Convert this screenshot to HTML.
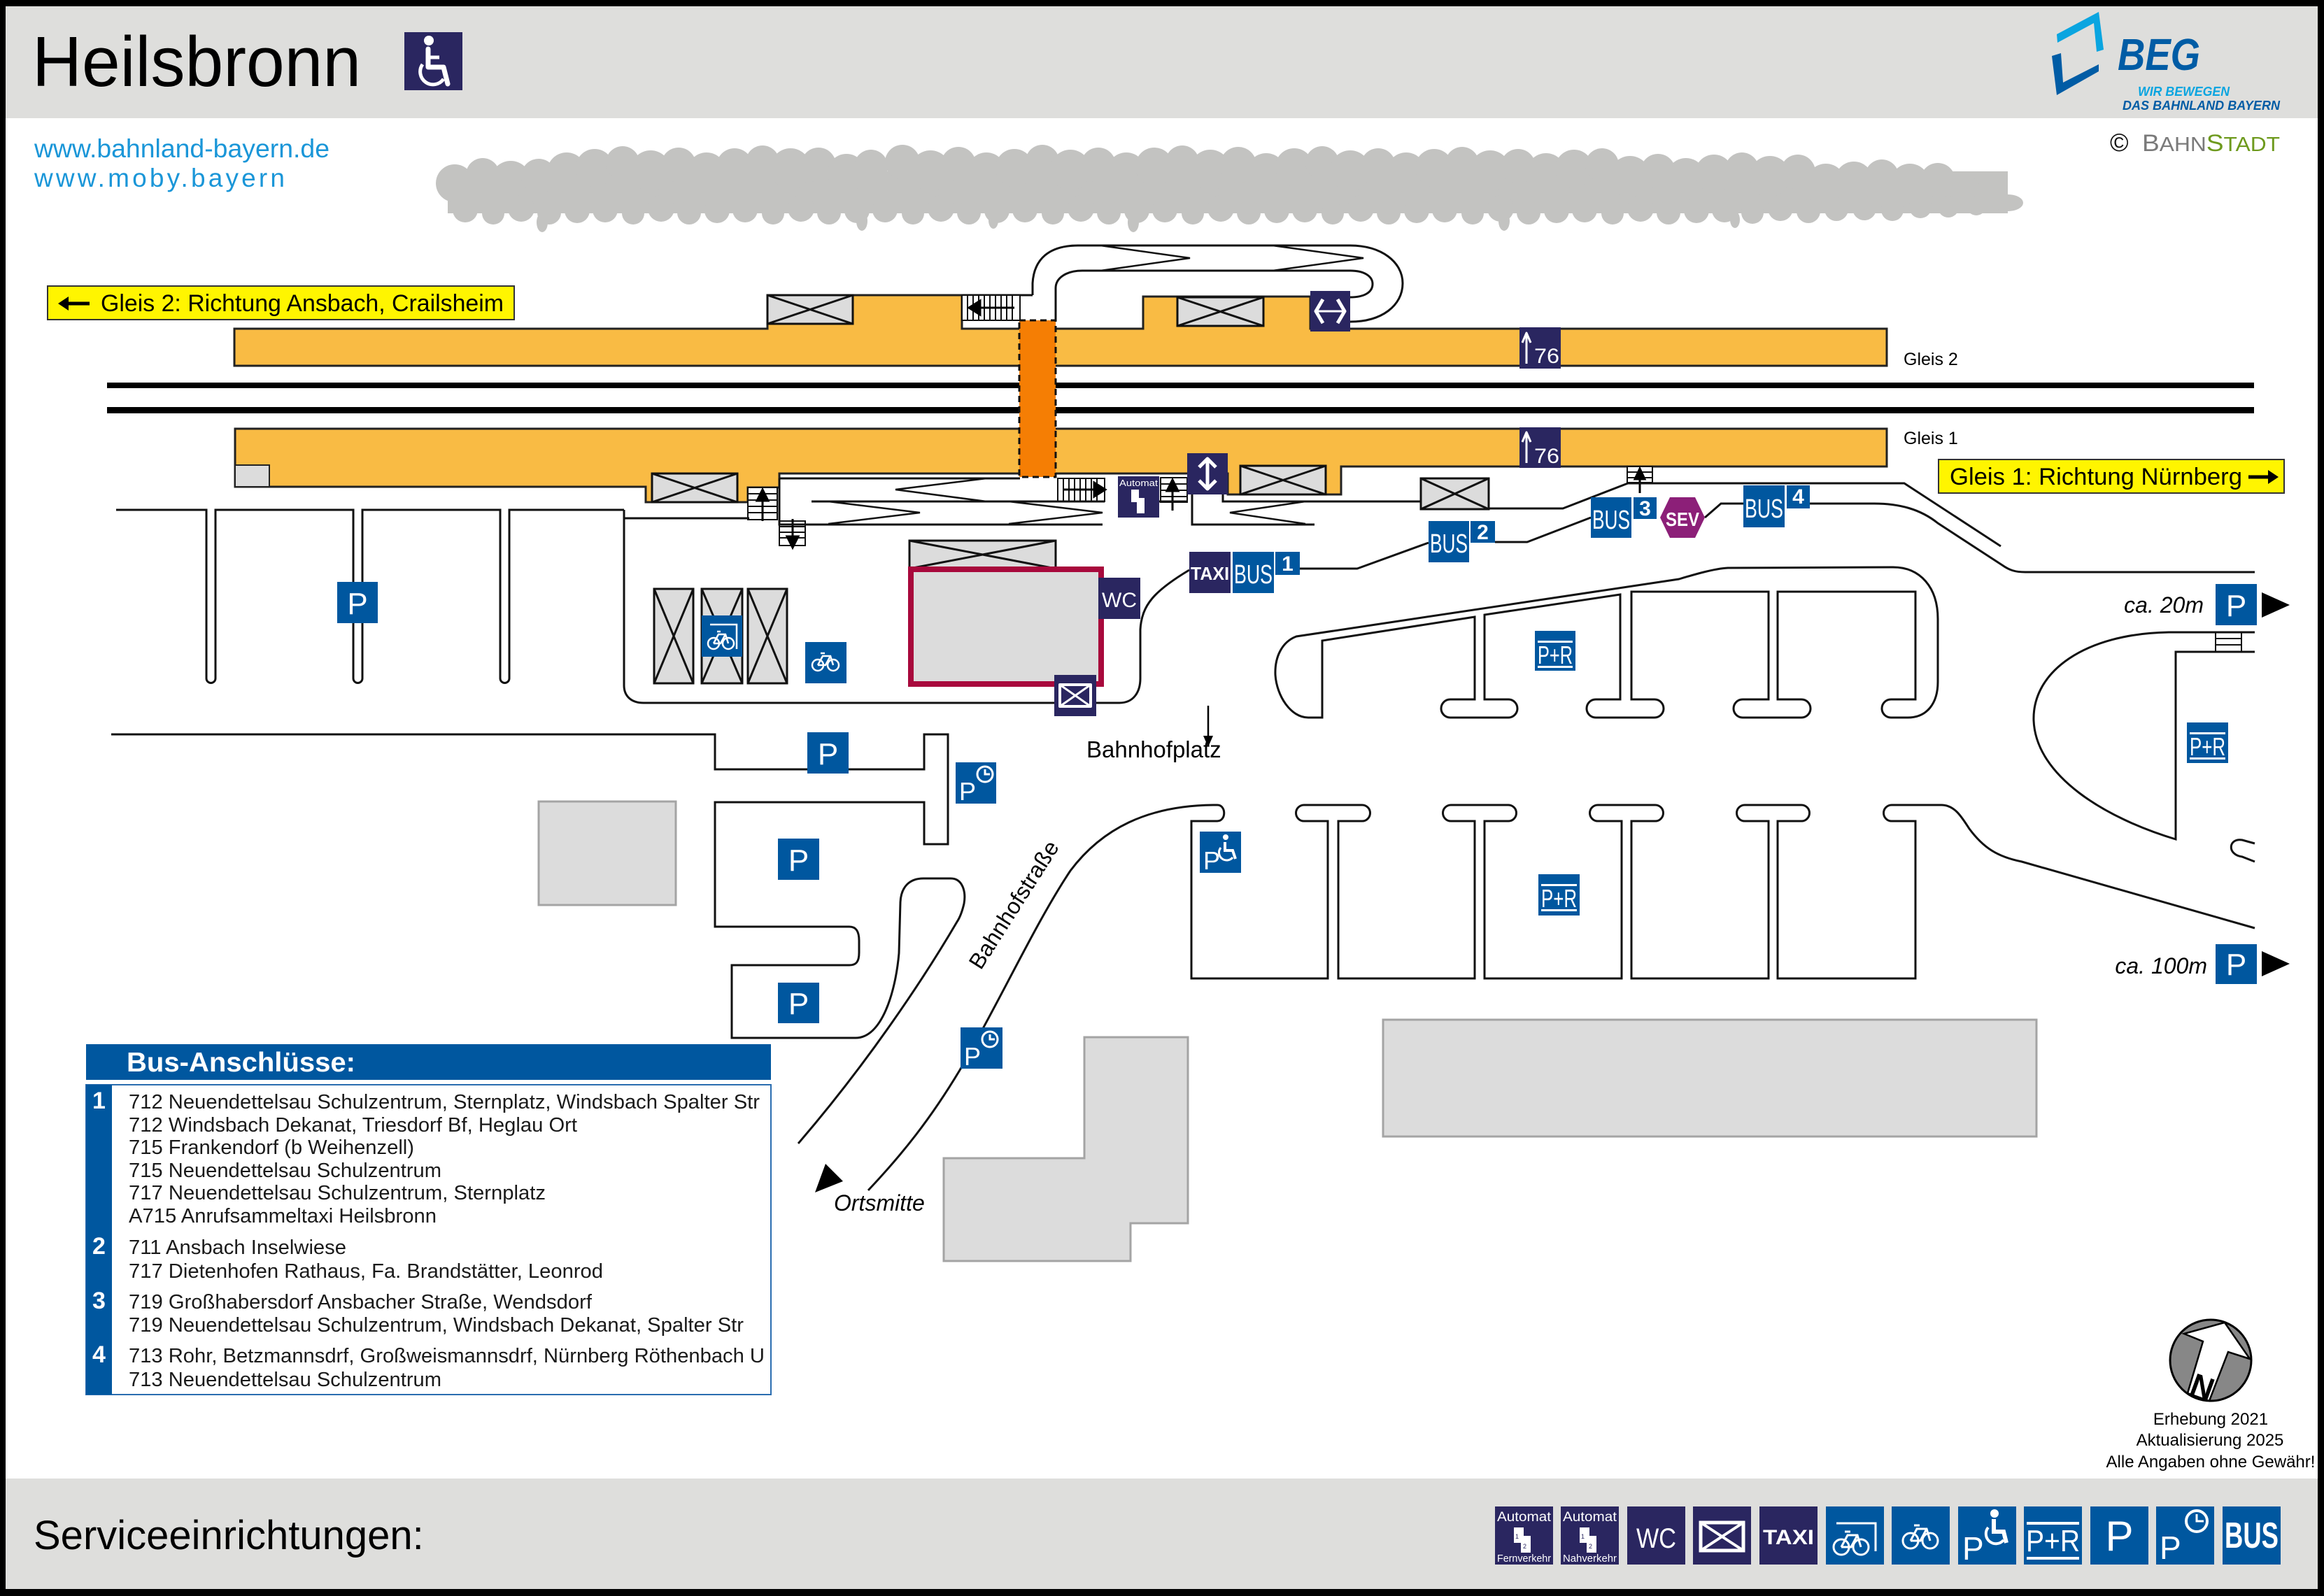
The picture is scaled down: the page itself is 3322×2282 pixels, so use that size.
<!DOCTYPE html>
<html><head><meta charset="utf-8"><style>html,body{margin:0;padding:0;background:#fff}svg{display:block}</style></head>
<body>
<svg xmlns="http://www.w3.org/2000/svg" width="3322" height="2282" viewBox="0 0 3322 2282" font-family="'Liberation Sans', Arial, sans-serif">
<!-- frame -->
<rect x="0" y="0" width="3322" height="2282" fill="#000"/>
<rect x="8" y="9" width="3305" height="2263" fill="#fff"/>
<rect x="8" y="9" width="3305" height="160" fill="#dededc"/>
<rect x="8" y="2114" width="3305" height="158" fill="#dededc"/>

<!-- header -->
<text x="46" y="123" font-size="101" fill="#000" textLength="470" lengthAdjust="spacingAndGlyphs">Heilsbronn</text>
<rect x="578" y="46" width="83" height="83" fill="#2a2660"/>
<circle cx="613" cy="58" r="7" fill="#fff"/>
<path d="M612 70 L612 96 L634 96 L640 120" stroke="#fff" stroke-width="7" fill="none" stroke-linejoin="round" stroke-linecap="round"/>
<path d="M612 82 L628 82" stroke="#fff" stroke-width="5"/>
<path d="M604 92 A18 18 0 1 0 634 113" stroke="#fff" stroke-width="5" fill="none"/>

<text x="49" y="225" font-size="37" fill="#1a96d8" textLength="422" lengthAdjust="spacingAndGlyphs">www.bahnland-bayern.de</text>
<text x="49" y="267" font-size="37" fill="#1a96d8" textLength="358" lengthAdjust="spacing">www.moby.bayern</text>

<!-- BEG logo -->
<polygon points="2940,49 3000,17 3007,71 2997,74 2993,33 2941,61" fill="#0aa5e0"/>
<polygon points="2933,80 2946,76 2949,118 3000,92 3000,102 2940,136" fill="#005ca5"/>
<text x="3027" y="100" font-size="64" font-weight="bold" font-style="italic" fill="#005ca5" textLength="118" lengthAdjust="spacingAndGlyphs">BEG</text>
<text x="3056" y="137" font-size="18" font-weight="bold" font-style="italic" fill="#0aa5e0" textLength="131" lengthAdjust="spacingAndGlyphs">WIR BEWEGEN</text>
<text x="3034" y="157" font-size="18" font-weight="bold" font-style="italic" fill="#005ca5" textLength="225" lengthAdjust="spacingAndGlyphs">DAS BAHNLAND BAYERN</text>
<text x="3016" y="216" font-size="36" fill="#111">©</text>
<text x="3062" y="216" font-size="34" fill="#7a7a7a" textLength="197" lengthAdjust="spacingAndGlyphs">B<tspan font-size="29">AHN</tspan><tspan fill="#6e9a1e" font-size="34">S</tspan><tspan fill="#6e9a1e" font-size="29">TADT</tspan></text>

<!-- tree cloud -->
<g fill="#c3c3c1">
<rect x="640" y="245" width="2230" height="60"/>
<circle cx="650" cy="262" r="27"/><circle cx="690" cy="250" r="24"/><circle cx="730" cy="259" r="29"/><circle cx="770" cy="252" r="25"/><circle cx="810" cy="246" r="28"/>
<circle cx="850" cy="240" r="27"/><circle cx="890" cy="233" r="24"/><circle cx="930" cy="244" r="29"/><circle cx="970" cy="236" r="25"/><circle cx="1010" cy="246" r="28"/>
<circle cx="1050" cy="238" r="26"/><circle cx="1090" cy="232" r="24"/><circle cx="1130" cy="241" r="29"/><circle cx="1170" cy="236" r="25"/><circle cx="1210" cy="247" r="27"/><circle cx="1245" cy="238" r="24"/>
<circle cx="1290" cy="232" r="25"/><circle cx="1330" cy="244" r="29"/><circle cx="1370" cy="235" r="25"/><circle cx="1410" cy="246" r="28"/>
<circle cx="1450" cy="240" r="27"/><circle cx="1490" cy="231" r="24"/><circle cx="1530" cy="243" r="29"/><circle cx="1570" cy="236" r="25"/><circle cx="1610" cy="246" r="28"/>
<circle cx="1650" cy="238" r="27"/><circle cx="1690" cy="232" r="24"/><circle cx="1730" cy="243" r="29"/><circle cx="1770" cy="236" r="26"/><circle cx="1810" cy="247" r="28"/>
<circle cx="1850" cy="239" r="27"/><circle cx="1890" cy="233" r="24"/><circle cx="1930" cy="244" r="29"/><circle cx="1970" cy="237" r="25"/><circle cx="2010" cy="246" r="28"/>
<circle cx="2050" cy="240" r="27"/><circle cx="2090" cy="234" r="24"/><circle cx="2130" cy="244" r="29"/><circle cx="2170" cy="238" r="25"/><circle cx="2210" cy="247" r="28"/>
<circle cx="2250" cy="241" r="27"/><circle cx="2290" cy="236" r="24"/><circle cx="2330" cy="252" r="29"/><circle cx="2370" cy="245" r="25"/><circle cx="2410" cy="254" r="28"/>
<circle cx="2450" cy="248" r="27"/><circle cx="2490" cy="242" r="24"/><circle cx="2530" cy="252" r="29"/><circle cx="2570" cy="246" r="25"/><circle cx="2610" cy="262" r="28"/>
<circle cx="2650" cy="258" r="27"/><circle cx="2690" cy="252" r="24"/><circle cx="2730" cy="262" r="28"/><circle cx="2770" cy="258" r="25"/><circle cx="2810" cy="272" r="21"/><circle cx="2845" cy="278" r="18"/><ellipse cx="2870" cy="290" rx="22" ry="12"/>
<circle cx="665" cy="300" r="18"/><circle cx="705" cy="305" r="16"/><circle cx="745" cy="298" r="19"/><circle cx="785" cy="304" r="17"/><circle cx="825" cy="301" r="18"/>
<circle cx="865" cy="300" r="18"/><circle cx="905" cy="305" r="16"/><circle cx="945" cy="298" r="19"/><circle cx="985" cy="304" r="17"/><circle cx="1025" cy="301" r="18"/>
<circle cx="1065" cy="300" r="18"/><circle cx="1105" cy="305" r="16"/><circle cx="1145" cy="298" r="19"/><circle cx="1185" cy="304" r="17"/><circle cx="1225" cy="301" r="18"/>
<circle cx="1265" cy="300" r="18"/><circle cx="1305" cy="305" r="16"/><circle cx="1345" cy="298" r="19"/><circle cx="1385" cy="304" r="17"/><circle cx="1425" cy="301" r="18"/>
<circle cx="1465" cy="300" r="18"/><circle cx="1505" cy="305" r="16"/><circle cx="1545" cy="298" r="19"/><circle cx="1585" cy="304" r="17"/><circle cx="1625" cy="301" r="18"/>
<circle cx="1665" cy="300" r="18"/><circle cx="1705" cy="305" r="16"/><circle cx="1745" cy="298" r="19"/><circle cx="1785" cy="304" r="17"/><circle cx="1825" cy="301" r="18"/>
<circle cx="1865" cy="300" r="18"/><circle cx="1905" cy="305" r="16"/><circle cx="1945" cy="298" r="19"/><circle cx="1985" cy="304" r="17"/><circle cx="2025" cy="301" r="18"/>
<circle cx="2065" cy="300" r="18"/><circle cx="2105" cy="305" r="16"/><circle cx="2145" cy="298" r="19"/><circle cx="2185" cy="304" r="17"/><circle cx="2225" cy="301" r="18"/>
<circle cx="2265" cy="300" r="18"/><circle cx="2305" cy="305" r="16"/><circle cx="2345" cy="298" r="19"/><circle cx="2385" cy="304" r="17"/><circle cx="2425" cy="301" r="18"/>
<circle cx="2465" cy="300" r="18"/><circle cx="2505" cy="304" r="16"/><circle cx="2545" cy="298" r="18"/><circle cx="2585" cy="302" r="17"/><circle cx="2625" cy="299" r="17"/>
<circle cx="2665" cy="298" r="17"/><circle cx="2705" cy="300" r="16"/><circle cx="2745" cy="296" r="16"/><circle cx="2785" cy="296" r="15"/><circle cx="2825" cy="294" r="14"/>
<ellipse cx="775" cy="318" rx="8" ry="14"/><ellipse cx="1232" cy="316" rx="8" ry="14"/><ellipse cx="1620" cy="318" rx="8" ry="14"/><ellipse cx="2150" cy="316" rx="8" ry="14"/><ellipse cx="1420" cy="315" rx="7" ry="12"/><ellipse cx="2480" cy="314" rx="7" ry="12"/>
</g>

<!-- direction labels -->
<rect x="68" y="409" width="667" height="48" fill="#fff500" stroke="#333" stroke-width="2"/>
<path d="M128 434 L94 434" stroke="#000" stroke-width="5"/>
<polygon points="83,434 98,424 98,444" fill="#000"/>
<text x="144" y="445" font-size="34" fill="#000" textLength="576" lengthAdjust="spacingAndGlyphs">Gleis 2: Richtung Ansbach, Crailsheim</text>

<rect x="2771" y="657" width="494" height="48" fill="#fff500" stroke="#333" stroke-width="2"/>
<text x="2787" y="693" font-size="34" fill="#000" textLength="418" lengthAdjust="spacingAndGlyphs">Gleis 1: Richtung Nürnberg</text>
<path d="M3214 682 L3246 682" stroke="#000" stroke-width="5"/>
<polygon points="3257,682 3242,672 3242,692" fill="#000"/>

<!-- tracks -->
<rect x="153" y="547" width="3069" height="8" fill="#000"/>
<rect x="153" y="582" width="3069" height="9" fill="#000"/>

<!-- ramp top (Gleis 2) -->
<g fill="none" stroke="#111" stroke-width="3">
<path d="M1375 422 L1476 422"/>
<path d="M1476 422 L1476 405 C1478 370 1500 351 1541 351 L1930 351 C1975 351 2005 375 2005 405 C2005 437 1975 460 1930 460"/>
<path d="M1509 458 L1509 412 C1509 397 1525 387 1547 387 L1930 387 C1950 387 1962 395 1962 406 C1962 418 1950 425 1930 425"/>
<path d="M1573 351 L1701 369 L1573 387" stroke-width="2.5"/>
<path d="M1819 351 L1949 369 L1819 387" stroke-width="2.5"/>
</g>

<!-- platforms -->
<path d="M335 470 L1097 470 L1097 422 L1375 422 L1375 470 L1634 470 L1634 424 L1873 424 L1873 470 L2697 470 L2697 523 L335 523 Z" fill="#f9bb44" stroke="#222" stroke-width="3"/>
<path d="M336 613 L2697 613 L2697 667 L1917 667 L1917 707 L1755 707 L1755 677 L1114 677 L1114 697 L1069 697 L1069 718 L923 718 L923 696 L336 696 Z" fill="#f9bb44" stroke="#222" stroke-width="3"/>
<rect x="336" y="665" width="49" height="31" fill="#dcdcdc" stroke="#222" stroke-width="2"/>

<!-- underpass -->
<rect x="1457" y="458" width="52" height="224" fill="#f57e04" stroke="#111" stroke-width="3" stroke-dasharray="9 6"/>

<!-- shelters -->
<g fill="#dcdcdc" stroke="#111" stroke-width="3">
<rect x="1097" y="422" width="122" height="41"/><path d="M1097 422 L1219 463 M1219 422 L1097 463"/>
<rect x="1683" y="425" width="123" height="41"/><path d="M1683 425 L1806 466 M1806 425 L1683 466"/>
<rect x="932" y="677" width="122" height="41"/><path d="M932 677 L1054 718 M1054 677 L932 718"/>
<rect x="1773" y="666" width="122" height="41"/><path d="M1773 666 L1895 707 M1895 666 L1773 707"/>
<rect x="2031" y="684" width="97" height="44"/><path d="M2031 684 L2128 728 M2128 684 L2031 728"/>
<rect x="1300" y="773" width="209" height="40"/><path d="M1300 773 L1509 813 M1509 773 L1300 813"/>
<rect x="935" y="842" width="56" height="135"/><path d="M935 842 L991 977 M991 842 L935 977"/>
<rect x="1003" y="842" width="58" height="135"/><path d="M1003 842 L1061 977 M1061 842 L1003 977"/>
<rect x="1069" y="842" width="56" height="135"/><path d="M1069 842 L1125 977 M1125 842 L1069 977"/>
</g>

<!-- stairs -->
<g stroke="#111" stroke-width="2" fill="#fff">
<rect x="1375" y="422" width="83" height="36"/>
<path d="M1383 422 V458 M1391 422 V458 M1399 422 V458 M1407 422 V458 M1415 422 V458 M1423 422 V458 M1431 422 V458 M1439 422 V458 M1447 422 V458"/>
<rect x="1069" y="697" width="42" height="46"/>
<path d="M1069 706 H1111 M1069 715 H1111 M1069 724 H1111 M1069 733 H1111"/>
<rect x="1114" y="745" width="37" height="35"/>
<path d="M1114 753 H1151 M1114 761 H1151 M1114 769 H1151"/>
<rect x="1512" y="684" width="67" height="33"/>
<path d="M1520 684 V717 M1528 684 V717 M1536 684 V717 M1544 684 V717 M1552 684 V717 M1560 684 V717 M1568 684 V717"/>
<rect x="1659" y="683" width="38" height="35"/>
<path d="M1659 692 H1697 M1659 701 H1697 M1659 710 H1697"/>
<rect x="2326" y="667" width="36" height="23"/>
<path d="M2326 675 H2362 M2326 683 H2362"/>
<rect x="3167" y="904" width="37" height="28"/>
<path d="M3167 913 H3204 M3167 922 H3204"/>
</g>
<g stroke="#000" stroke-width="3" fill="#000">
<path d="M1450 440 L1395 440"/><polygon points="1385,440 1401,430 1401,450"/>
<path d="M1090 745 L1090 710"/><polygon points="1090,700 1082,716 1098,716"/>
<path d="M1133 742 L1133 772"/><polygon points="1133,783 1125,767 1141,767"/>
<path d="M1520 700 L1568 700"/><polygon points="1580,700 1564,690 1564,710"/>
<path d="M1676 730 L1676 694"/><polygon points="1676,686 1668,702 1684,702"/>
<path d="M2344 705 L2344 678"/><polygon points="2344,670 2337,685 2351,685"/>
</g>

<!-- ramp south and roads -->
<g fill="none" stroke="#111" stroke-width="3">
<path d="M1114 684 L1458 684"/>
<path d="M1114 684 L1114 750 L1576 750"/>
<path d="M1160 717 L1579 717"/>
<path d="M1410 684 L1280 700 L1410 717" stroke-width="2.5"/>
<path d="M1184 717 L1315 733 L1184 749" stroke-width="2.5"/>
<path d="M1442 717 L1576 733 L1442 749" stroke-width="2.5"/>
<path d="M1704 707 L1704 750 L1879 750"/>
<path d="M1748 707 L1748 717 L2031 717"/>
<path d="M1866 717 L1758 733 L1866 749" stroke-width="2.5"/>
<path d="M1657 717 L1697 717"/>
<path d="M2128 727 L2234 727 L2327 691 L2722 691 L2860 781"/>
<path d="M2586 720 L2679 720 C2715 720 2745 728 2770 748 L2862 808 C2872 815 2880 818 2895 818 L3223 818"/>
<path d="M1858 813 L1940 813 L2042 776"/>
<path d="M2137 775 L2183 775 L2274 740"/>
<path d="M2437 740 L2460 720 L2492 720"/>
<!-- left parking -->
<path d="M166 729 L295 729 L295 970 A6.5 6.5 0 0 0 308 970 L308 729 L505 729 L505 970 A6.5 6.5 0 0 0 518 970 L518 729 L715 729 L715 970 A6.5 6.5 0 0 0 728 970 L728 729 L892 729"/>
<path d="M892 729 L892 980 C892 995 902 1005 920 1005 L1600 1005 C1620 1005 1630 990 1630 970 L1630 900 C1632 865 1650 845 1700 815"/>
<path d="M892 741 L1071 741"/>
<path d="M159 1050 L1022 1050 L1022 1100 L1321 1100 L1321 1050 L1355 1050 L1355 1207 L1321 1207 L1321 1147 L1022 1147 L1022 1325 L1214 1325 C1224 1325 1228 1332 1228 1345 L1228 1362 C1228 1375 1224 1380 1214 1380 L1046 1380 L1046 1484 L1223 1484 C1260 1484 1280 1420 1285 1363 L1287 1290 C1288 1268 1300 1256 1320 1256 L1359 1256 C1376 1256 1381 1275 1378 1292 C1375 1305 1372 1312 1368 1318 C1320 1400 1240 1520 1141 1635"/>
<path d="M1734 1151 C1640 1152 1575 1185 1530 1245 C1480 1320 1430 1430 1372 1530 C1330 1600 1290 1650 1241 1702"/>
<!-- upper lot -->
<path d="M1890 1026 L1890 916 L2108 882 L2108 1000 L2073 1000 A13 13 0 0 0 2073 1026 L2156 1026 A13 13 0 0 0 2156 1000 L2122 1000 L2122 879 L2316 850 L2316 1000 L2281 1000 A13 13 0 0 0 2281 1026 L2365 1026 A13 13 0 0 0 2365 1000 L2332 1000 L2332 846 L2528 846 L2528 1000 L2491 1000 A13 13 0 0 0 2491 1026 L2575 1026 A13 13 0 0 0 2575 1000 L2541 1000 L2541 846 L2738 846 L2738 1000 L2703 1000 A13 13 0 0 0 2703 1026 L2727 1026 C2755 1026 2770 1005 2770 975 L2770 885 C2770 840 2745 811 2706 811 L2470 812 C2450 813 2420 822 2400 828 L1853 910 C1832 918 1822 940 1823 965 C1825 995 1845 1026 1870 1026 Z"/>
<!-- lower lot -->
<path d="M1734 1151 L1740 1151 C1753 1151 1753 1174 1740 1174 L1703 1174 L1703 1399 L1898 1399 L1898 1174 L1864 1174 A11.5 11.5 0 0 1 1864 1151 L1947 1151 A11.5 11.5 0 0 1 1947 1174 L1913 1174 L1913 1399 L2108 1399 L2108 1174 L2074 1174 A11.5 11.5 0 0 1 2074 1151 L2156 1151 A11.5 11.5 0 0 1 2156 1174 L2122 1174 L2122 1399 L2318 1399 L2318 1174 L2284 1174 A11.5 11.5 0 0 1 2284 1151 L2366 1151 A11.5 11.5 0 0 1 2366 1174 L2332 1174 L2332 1399 L2528 1399 L2528 1174 L2494 1174 A11.5 11.5 0 0 1 2494 1151 L2575 1151 A11.5 11.5 0 0 1 2575 1174 L2541 1174 L2541 1399 L2738 1399 L2738 1174 L2704 1174 A11.5 11.5 0 0 1 2704 1151 L2775 1151 C2795 1151 2805 1170 2815 1185 C2835 1212 2855 1225 2890 1232 L3223 1327"/>
<!-- right side -->
<path d="M3223 904 L3100 904 C2980 906 2905 960 2907 1030 C2910 1110 3010 1170 3110 1200 L3110 932 L3223 932"/>
<path d="M3223 1206 L3205 1201 C3185 1198 3183 1222 3205 1225 L3223 1232"/>
</g>

<!-- buildings -->
<g fill="#dcdcdc" stroke="#a4a4a4" stroke-width="3">
<rect x="770" y="1146" width="196" height="148"/>
<polygon points="1349,1656 1550,1656 1550,1483 1698,1483 1698,1749 1616,1749 1616,1803 1349,1803"/>
<rect x="1977" y="1458" width="934" height="167"/>
</g>
<rect x="1302" y="814" width="272" height="164" fill="#dcdcdc" stroke="#a8093c" stroke-width="8"/>

<!-- map text -->
<text x="2721" y="522" font-size="25" fill="#000">Gleis 2</text>
<text x="2721" y="635" font-size="25" fill="#000">Gleis 1</text>
<text x="1553" y="1083" font-size="33" fill="#000">Bahnhofplatz</text>
<path d="M1727 1009 L1727 1058" stroke="#000" stroke-width="2.5"/>
<polygon points="1727,1068 1720,1052 1734,1052" fill="#000"/>
<text x="1402" y="1388" font-size="32" fill="#000" transform="rotate(-57.5 1402 1388)">Bahnhofstraße</text>
<polygon points="1165,1705 1180,1664 1205,1689" fill="#000"/>
<text x="1192" y="1731" font-size="32" font-style="italic" fill="#000">Ortsmitte</text>
<text x="3150" y="876" font-size="32" font-style="italic" fill="#000" text-anchor="end">ca. 20m</text>
<text x="3155" y="1392" font-size="32" font-style="italic" fill="#000" text-anchor="end">ca. 100m</text>
<polygon points="3233,847 3273,865 3233,883" fill="#000"/>
<polygon points="3233,1360 3273,1378 3233,1396" fill="#000"/>

<!-- P icons -->
<g fill="#00579f">
<rect x="482" y="832" width="58" height="59"/>
<rect x="1154" y="1047" width="59" height="59"/>
<rect x="1112" y="1199" width="59" height="59"/>
<rect x="1112" y="1405" width="59" height="58"/>
<rect x="3167" y="835" width="59" height="59"/>
<rect x="3167" y="1350" width="59" height="57"/>
<rect x="1366" y="1090" width="58" height="59"/>
<rect x="1373" y="1469" width="60" height="59"/>
<rect x="1715" y="1189" width="59" height="59"/>
<rect x="2194" y="902" width="58" height="57"/>
<rect x="2199" y="1250" width="59" height="59"/>
<rect x="3126" y="1033" width="59" height="58"/>
<rect x="1003" y="880" width="58" height="59"/>
<rect x="1151" y="918" width="59" height="59"/>
</g>
<g fill="#fff" font-size="44" text-anchor="middle">
<text x="511" y="878">P</text>
<text x="1183.5" y="1093">P</text>
<text x="1141.5" y="1245">P</text>
<text x="1141.5" y="1450">P</text>
<text x="3196.5" y="881">P</text>
<text x="3196.5" y="1394">P</text>
</g>
<g fill="#fff" font-size="36">
<text x="1371" y="1144">P</text>
<text x="1378" y="1523">P</text>
<text x="1720" y="1243">P</text>
</g>
<g fill="none" stroke="#fff" stroke-width="3">
<circle cx="1408" cy="1107" r="11"/><path d="M1408 1100 L1408 1107 L1415 1107"/>
<circle cx="1415" cy="1486" r="11"/><path d="M1415 1479 L1415 1486 L1422 1486"/>
<path d="M1751 1204 L1751 1216 L1762 1216 L1766 1228" stroke-width="4"/>
<path d="M1745 1212 A10 10 0 1 0 1762 1226"/>
</g>
<circle cx="1752" cy="1197" r="4" fill="#fff"/>
<!-- P+R -->
<g fill="#fff">
<rect x="2198" y="916" width="50" height="3"/><rect x="2198" y="952" width="50" height="3"/>
<text x="2198" y="949" font-size="36" textLength="50" lengthAdjust="spacingAndGlyphs">P+R</text>
<rect x="2203" y="1264" width="51" height="3"/><rect x="2203" y="1300" width="51" height="3"/>
<text x="2203" y="1297" font-size="36" textLength="51" lengthAdjust="spacingAndGlyphs">P+R</text>
<rect x="3130" y="1047" width="51" height="3"/><rect x="3130" y="1083" width="51" height="3"/>
<text x="3130" y="1080" font-size="36" textLength="51" lengthAdjust="spacingAndGlyphs">P+R</text>
</g>
<!-- bikes -->
<g fill="none" stroke="#fff" stroke-width="2.5">
<path d="M1015 893 L1053 893 L1053 928"/>
<circle cx="1020" cy="920" r="8"/><circle cx="1041" cy="920" r="8"/>
<path d="M1020 920 L1027 907 L1037 907 L1041 920 M1020 920 L1030 920 L1037 907 M1025 903 L1030 903"/>
<circle cx="1169" cy="951" r="8"/><circle cx="1191" cy="951" r="8"/>
<path d="M1169 951 L1176 938 L1187 938 L1191 951 M1169 951 L1180 951 L1187 938 M1173 934 L1179 934"/>
</g>

<!-- navy icons -->
<g fill="#2a2660">
<rect x="1873" y="416" width="57" height="58"/>
<rect x="2172" y="468" width="59" height="59"/>
<rect x="2172" y="611" width="59" height="58"/>
<rect x="1697" y="648" width="58" height="59"/>
<rect x="1598" y="681" width="59" height="59"/>
<rect x="1700" y="789" width="59" height="59"/>
<rect x="1570" y="826" width="60" height="59"/>
<rect x="1507" y="965" width="60" height="59"/>
</g>
<g fill="none" stroke="#fff" stroke-width="5" stroke-linejoin="round">
<path d="M1891 428 L1881 445 L1891 462 M1912 428 L1922 445 L1912 462"/>
<path d="M1884 445 L1919 445" stroke-width="3"/>
<path d="M1714 668 L1726 656 L1738 668 M1714 687 L1726 699 L1738 687 M1726 658 L1726 697"/>
<path d="M2182 520 L2182 478 M2176 490 L2182 476 L2188 490" stroke-width="3"/>
<path d="M2182 662 L2182 620 M2176 632 L2182 618 L2188 632" stroke-width="3"/>
<rect x="1515" y="979" width="44" height="31" stroke-width="4"/>
<path d="M1515 979 L1559 1010 M1559 979 L1515 1010" stroke-width="3"/>
</g>
<g fill="#fff">
<text x="2193" y="519" font-size="30" textLength="36" lengthAdjust="spacingAndGlyphs">76</text>
<text x="2193" y="662" font-size="30" textLength="36" lengthAdjust="spacingAndGlyphs">76</text>
<text x="1600" y="868" font-size="30" text-anchor="middle">WC</text>
<text x="1702" y="829" font-size="26" font-weight="bold" textLength="55" lengthAdjust="spacingAndGlyphs">TAXI</text>
<text x="1600" y="695" font-size="13" textLength="55" lengthAdjust="spacingAndGlyphs">Automat</text>
<rect x="1617" y="700" width="11" height="18"/><rect x="1625" y="712" width="11" height="22"/>
</g>

<!-- bus stops -->
<g fill="#00579f">
<rect x="1762" y="789" width="59" height="59"/><rect x="1823" y="789" width="35" height="33"/>
<rect x="2042" y="745" width="58" height="59"/><rect x="2102" y="745" width="35" height="31"/>
<rect x="2274" y="711" width="58" height="58"/><rect x="2335" y="711" width="33" height="31"/>
<rect x="2492" y="694" width="59" height="60"/><rect x="2554" y="694" width="33" height="33"/>
</g>
<polygon points="2373,740 2387,711 2423,711 2437,740 2423,769 2387,769" fill="#8c1f78"/>
<g fill="#fff" font-size="38">
<text x="1764" y="834" textLength="55" lengthAdjust="spacingAndGlyphs">BUS</text>
<text x="2044" y="790" textLength="54" lengthAdjust="spacingAndGlyphs">BUS</text>
<text x="2276" y="756" textLength="54" lengthAdjust="spacingAndGlyphs">BUS</text>
<text x="2494" y="740" textLength="55" lengthAdjust="spacingAndGlyphs">BUS</text>
</g>
<g fill="#fff" font-size="30" font-weight="bold" text-anchor="middle">
<text x="1840.5" y="816">1</text>
<text x="2119.5" y="771">2</text>
<text x="2351.5" y="737">3</text>
<text x="2570.5" y="720">4</text>
</g>
<text x="2381" y="752" font-size="28" font-weight="bold" fill="#fff" textLength="48" lengthAdjust="spacingAndGlyphs">SEV</text>

<!-- bus legend -->
<rect x="123" y="1493" width="979" height="51" fill="#00579f"/>
<text x="181" y="1532" font-size="39" font-weight="bold" fill="#fff" textLength="327" lengthAdjust="spacingAndGlyphs">Bus-Anschlüsse:</text>
<rect x="123" y="1551" width="979" height="443" fill="#fff" stroke="#2a6db0" stroke-width="2"/>
<rect x="123" y="1551" width="37" height="443" fill="#00579f"/>
<g fill="#fff" font-size="34" font-weight="bold">
<text x="132" y="1585">1</text>
<text x="132" y="1793">2</text>
<text x="132" y="1871">3</text>
<text x="132" y="1948">4</text>
</g>
<g fill="#1a1a1a" font-size="28.5">
<text x="184" y="1585" textLength="902" lengthAdjust="spacingAndGlyphs">712 Neuendettelsau Schulzentrum, Sternplatz, Windsbach Spalter Str</text>
<text x="184" y="1618" textLength="641" lengthAdjust="spacingAndGlyphs">712 Windsbach Dekanat, Triesdorf Bf, Heglau Ort</text>
<text x="184" y="1650" textLength="408" lengthAdjust="spacingAndGlyphs">715 Frankendorf (b Weihenzell)</text>
<text x="184" y="1683" textLength="447" lengthAdjust="spacingAndGlyphs">715 Neuendettelsau Schulzentrum</text>
<text x="184" y="1715" textLength="596" lengthAdjust="spacingAndGlyphs">717 Neuendettelsau Schulzentrum, Sternplatz</text>
<text x="184" y="1748" textLength="440" lengthAdjust="spacingAndGlyphs">A715 Anrufsammeltaxi Heilsbronn</text>
<text x="184" y="1793" textLength="311" lengthAdjust="spacingAndGlyphs">711 Ansbach Inselwiese</text>
<text x="184" y="1827" textLength="678" lengthAdjust="spacingAndGlyphs">717 Dietenhofen Rathaus, Fa. Brandstätter, Leonrod</text>
<text x="184" y="1871" textLength="662" lengthAdjust="spacingAndGlyphs">719 Großhabersdorf Ansbacher Straße, Wendsdorf</text>
<text x="184" y="1904" textLength="879" lengthAdjust="spacingAndGlyphs">719 Neuendettelsau Schulzentrum, Windsbach Dekanat, Spalter Str</text>
<text x="184" y="1948" textLength="909" lengthAdjust="spacingAndGlyphs">713 Rohr, Betzmannsdrf, Großweismannsdrf, Nürnberg Röthenbach U</text>
<text x="184" y="1982" textLength="447" lengthAdjust="spacingAndGlyphs">713 Neuendettelsau Schulzentrum</text>
</g>

<!-- compass -->
<circle cx="3160" cy="1945" r="58" fill="#878787" stroke="#000" stroke-width="3"/>
<polygon points="3122,1907 3180,1891 3216,1943 3185,1933 3158,2003 3127,1992 3149,1918" fill="#fff" stroke="#000" stroke-width="2.5"/>
<text x="3150" y="1998" font-size="44" font-weight="bold" text-anchor="middle" fill="#000" transform="rotate(20 3150 1978)">N</text>
<g fill="#000" font-size="24" text-anchor="middle">
<text x="3160" y="2037">Erhebung 2021</text>
<text x="3159" y="2067">Aktualisierung 2025</text>
<text x="3160" y="2098">Alle Angaben ohne Gewähr!</text>
</g>

<!-- footer -->
<text x="48" y="2215" font-size="58" fill="#000">Serviceeinrichtungen:</text>
<g fill="#2a2660">
<rect x="2137" y="2154" width="83" height="83"/>
<rect x="2231" y="2154" width="83" height="83"/>
<rect x="2326" y="2154" width="83" height="83"/>
<rect x="2420" y="2154" width="83" height="83"/>
<rect x="2515" y="2154" width="83" height="83"/>
</g>
<g fill="#00579f">
<rect x="2610" y="2154" width="83" height="83"/>
<rect x="2704" y="2154" width="83" height="83"/>
<rect x="2799" y="2154" width="83" height="83"/>
<rect x="2893" y="2154" width="83" height="83"/>
<rect x="2988" y="2154" width="83" height="83"/>
<rect x="3082" y="2154" width="83" height="83"/>
<rect x="3177" y="2154" width="83" height="83"/>
</g>
<g fill="#fff">
<text x="2140" y="2175" font-size="19" textLength="77" lengthAdjust="spacingAndGlyphs">Automat</text>
<rect x="2164" y="2184" width="14" height="22"/><rect x="2174" y="2196" width="14" height="24"/>
<text x="2140" y="2233" font-size="15" textLength="77" lengthAdjust="spacingAndGlyphs">Fernverkehr</text>
<text x="2234" y="2175" font-size="19" textLength="77" lengthAdjust="spacingAndGlyphs">Automat</text>
<rect x="2258" y="2184" width="14" height="22"/><rect x="2268" y="2196" width="14" height="24"/>
<text x="2234" y="2233" font-size="15" textLength="77" lengthAdjust="spacingAndGlyphs">Nahverkehr</text>
<text x="2339" y="2213" font-size="40" textLength="57" lengthAdjust="spacingAndGlyphs">WC</text>
<text x="2520" y="2208" font-size="30" font-weight="bold" textLength="73" lengthAdjust="spacingAndGlyphs">TAXI</text>
<text x="2805" y="2230" font-size="46">P</text>
<rect x="2897" y="2176" width="75" height="4"/><rect x="2897" y="2226" width="75" height="4"/>
<text x="2896" y="2218" font-size="44" textLength="77" lengthAdjust="spacingAndGlyphs">P+R</text>
<text x="3029.5" y="2217" font-size="60" text-anchor="middle">P</text>
<text x="3087" y="2229" font-size="46">P</text>
<text x="3180" y="2213" font-size="52" font-weight="bold" textLength="77" lengthAdjust="spacingAndGlyphs">BUS</text>
<circle cx="2851" cy="2164" r="6"/>
</g>
<g fill="#2a2660" font-size="9">
<text x="2166" y="2200">1</text><text x="2177" y="2214">2</text>
<text x="2260" y="2200">1</text><text x="2271" y="2214">2</text>
</g>
<g fill="none" stroke="#fff" stroke-width="4">
<rect x="2431" y="2177" width="61" height="40" stroke-width="5"/>
<path d="M2431 2177 L2492 2217 M2492 2177 L2431 2217"/>
<path d="M2625 2178 L2681 2178 L2681 2218" stroke-width="3"/>
<circle cx="2632" cy="2212" r="11" stroke-width="3"/><circle cx="2660" cy="2212" r="11" stroke-width="3"/>
<path d="M2632 2212 L2641 2195 L2655 2195 L2660 2212 M2632 2212 L2646 2212 L2655 2195 M2637 2190 L2645 2190" stroke-width="3"/>
<circle cx="2731" cy="2203" r="11" stroke-width="3"/><circle cx="2759" cy="2203" r="11" stroke-width="3"/>
<path d="M2731 2203 L2740 2186 L2754 2186 L2759 2203 M2731 2203 L2745 2203 L2754 2186 M2736 2181 L2744 2181" stroke-width="3"/>
<path d="M2850 2172 L2850 2190 L2864 2190 L2868 2206" stroke-width="6"/>
<path d="M2842 2184 A13 13 0 1 0 2864 2202" stroke-width="4"/>
<circle cx="3140" cy="2175" r="15" stroke-width="4"/>
<path d="M3140 2165 L3140 2175 L3150 2175" stroke-width="3"/>
</g>
</svg>
</body></html>
